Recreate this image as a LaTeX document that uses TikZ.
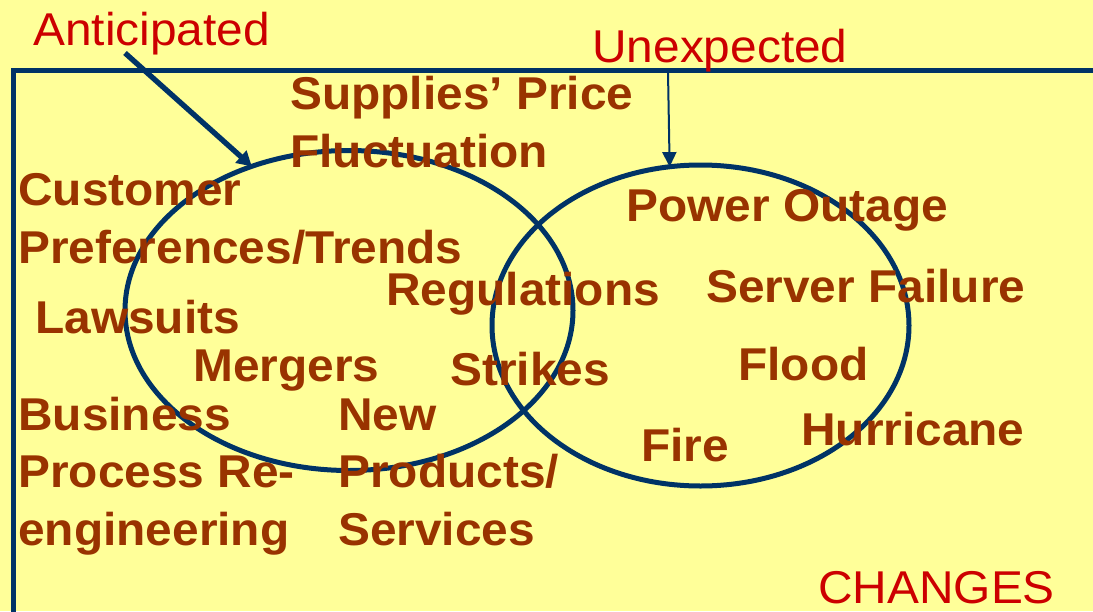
\documentclass[tikz,border=0pt]{standalone}
\usepackage{fontspec}
\setmainfont{Liberation Sans}[FakeStretch=1.04]
\usetikzlibrary{arrows.meta,shapes.geometric}
\definecolor{paper}{HTML}{FFFF99}
\definecolor{navy}{HTML}{003366}
\definecolor{rust}{HTML}{993300}
\definecolor{signal}{HTML}{CC0000}
\tikzset{
  item/.style={anchor=base west, inner sep=0pt, text=rust, align=left,
    font=\fontsize{34.5}{43.1}\selectfont\bfseries},
  tag/.style={anchor=base west, inner sep=0pt, text=signal,
    font=\fontsize{34.5}{41}\selectfont},
  venn/.style={draw=navy, ellipse, line width=3.75pt, outer sep=0pt, inner sep=0pt},
}
\begin{document}
\begin{tikzpicture}[x=0.75pt, y=-0.75pt]
    \useasboundingbox[fill=paper] (0,0) rectangle (1093,611);
    \draw[navy, line width=3.75pt] (13.5,615) -- (13.5,70) -- (1095,70);
    % the two sets
    \node[venn, minimum width=336pt, minimum height=240pt] (known) at (349,310.5) {};
    \node[venn, minimum width=312.75pt, minimum height=240.75pt] (sudden) at (700.5,325.5) {};
    % headings
    \node[tag] (anticipated) at (33,45) {Anticipated};
    \node[tag] (unexpected) at (592,62) {Unexpected};
    \node[tag] (changes) at (818,603) {CHANGES};
    \coordinate (anttail) at (125,53);
    \coordinate (unxtail) at (668,72);
    \draw[navy, line width=4pt, -{Triangle[length=11pt, width=12pt]}] (anttail) -- (known.124);
    \draw[navy, line width=1.5pt, -{Triangle[length=11pt, width=10.5pt]}] (unxtail) -- (sudden.101);
    % causes (base = last line)
    \node[item] (supplies) at (290,167) {Supplies’ Price\\Fluctuation};
    \node[item] (customer) at (18,263) {Customer\\Preferences/Trends};
    \node[item] (lawsuits) at (35,333) {Lawsuits};
    \node[item] (regulations) at (386,305) {Regulations};
    \node[item] (mergers) at (193,381) {Mergers};
    \node[item] (strikes) at (450,385) {Strikes};
    \node[item] (business) at (18,545) {Business\\Process Re-\\engineering};
    \node[item] (products) at (338,545) {New\\Products/\\Services};
    \node[item] (power) at (626,221) {Power Outage};
    \node[item] (server) at (706,302) {Server Failure};
    \node[item] (flood) at (738,380) {Flood};
    \node[item] (hurricane) at (801,445) {Hurricane};
    \node[item] (fire) at (641,461) {Fire};
\end{tikzpicture}
\end{document}
